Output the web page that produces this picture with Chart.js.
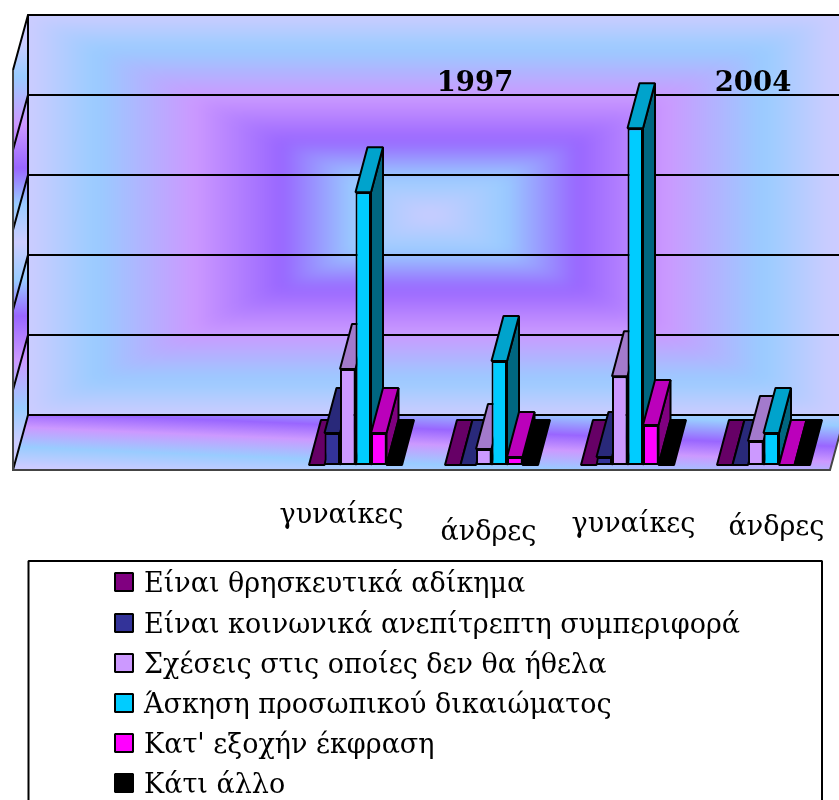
<!DOCTYPE html>
<html>
<head>
<meta charset="utf-8">
<title>Chart</title>
<script src="https://cdn.jsdelivr.net/npm/chart.js@4/dist/chart.umd.min.js"></script>
<style>
    html, body { margin: 0; padding: 0; background: #fff; overflow: hidden; }
    canvas { display: block; }
</style>
</head>
<body>
<canvas id="chart" width="839" height="800"></canvas>
<script>
// Chart data, the first two categories are empty in the original
const categories = ["", "", "γυναίκες", "άνδρες", "γυναίκες", "άνδρες"];
const yearLabels = ["1997", "2004"];
const seriesNames = [
    "Είναι θρησκευτικά αδίκημα",
    "Είναι κοινωνικά ανεπίτρεπτη συμπεριφορά",
    "Σχέσεις στις οποίες δεν θα ήθελα",
    "Άσκηση προσωπικού δικαιώματος",
    "Κατ' εξοχήν έκφραση",
    "Κάτι άλλο"
];
const religious = [null, null, 0, 0, 0, 0];
const unacceptable = [null, null, 4, 0, 1, 0];
const unwanted = [null, null, 12, 2, 11.1, 3];
const personalRight = [null, null, 34.1, 13, 42.1, 4];
const expression = [null, null, 4, 1, 5, 0];
const other = [null, null, 0, 0, 0, 0];
const seriesValues = [religious, unacceptable, unwanted, personalRight, expression, other];

// Colours
const frontColors = ["#800080", "#333399", "#CC99FF", "#00CCFF", "#FF00FF", "#000000"];
const topColors = ["#660066", "#29297A", "#A37ACC", "#00A3CC", "#BB00BB", "#000000"];
const sideColors = ["#400040", "#1A1A4D", "#664D80", "#006680", "#800080", "#000000"];
const wallStops = [[0, "#CCCCFF"], [0.19, "#99CCFF"], [0.37, "#9966FF"], [0.59, "#CC99FF"], [0.83, "#99CCFF"], [1, "#CCCCFF"]];

// Layout of the fake 3D box
const wall = { left: 28, top: 15, right: 845, bottom: 415 };
const floorFront = { left: 13, right: 830, y: 470 };
const barDepth = { x: 12, y: -45 };
const gridBack = { x: 28, y: -50 };
const gridFront = { x: 13, y: 5 };
const SERIF = '"DejaVu Serif", serif';

// Where the text boxes sit relative to their category
const labelOffsets = [null, null, { x: -14, y: 523 }, { x: -3, y: 540 }, { x: 6, y: 532 }, { x: 13, y: 535 }];
const yearPositions = [{ x: 475, y: 91 }, { x: 753, y: 91 }];
const legendBox = { left: 28.5, top: 561, right: 822, bottom: 820 };
const legendRows = [592, 633, 673, 713, 753, 793];

function hexToRgb(hex) {
    return [1, 3, 5].map(i => parseInt(hex.substr(i, 2), 16));
}

function wallColor(t) {
    for (let i = 1; i < wallStops.length; i++) {
        if (t <= wallStops[i][0]) {
            const a = wallStops[i - 1];
            const b = wallStops[i];
            const f = (t - a[0]) / (b[0] - a[0]);
            const ca = hexToRgb(a[1]);
            const cb = hexToRgb(b[1]);
            return `rgb(${ca.map((c, k) => Math.round(c + (cb[k] - c) * f)).join(",")})`;
        }
    }
    return wallStops[wallStops.length - 1][1];
}

function polygon(ctx, points) {
    ctx.beginPath();
    points.forEach((p, i) => i ? ctx.lineTo(p[0], p[1]) : ctx.moveTo(p[0], p[1]));
    ctx.closePath();
}

// Rectangular gradient of the back wall, nested rectangles softened with a blur
function makeWallImage() {
    const off = document.createElement("canvas");
    off.width = 900;
    off.height = 460;
    const octx = off.getContext("2d");
    const cx = 430;
    const cy = (wall.top + wall.bottom) / 2;
    const hw = cx - wall.left;
    const hh = (wall.bottom - wall.top) / 2;
    octx.fillStyle = wallColor(1);
    octx.fillRect(0, 0, off.width, off.height);
    for (let i = 250; i > 0; i--) {
        const t = i / 250;
        octx.fillStyle = wallColor(t);
        octx.fillRect(cx - hw * t, cy - hh * t, hw * t * 2, hh * t * 2);
    }
    return off;
}

// Back wall, side wall and floor
function drawBox(chart) {
    const ctx = chart.ctx;
    const yScale = chart.scales.y;
    ctx.save();

    ctx.save();
    ctx.beginPath();
    ctx.rect(wall.left, wall.top, wall.right - wall.left, wall.bottom - wall.top);
    ctx.clip();
    ctx.filter = "blur(7px)";
    ctx.drawImage(makeWallImage(), 0, 0);
    ctx.restore();

    // Side wall
    const side = ctx.createLinearGradient(0, 42, 0, 442);
    wallStops.slice().reverse().forEach(s => side.addColorStop(0.5 - s[0] / 2, s[1]));
    wallStops.forEach(s => side.addColorStop(0.5 + s[0] / 2, s[1]));
    polygon(ctx, [[floorFront.left, 70], [wall.left, wall.top], [wall.left, wall.bottom], [floorFront.left, floorFront.y]]);
    ctx.fillStyle = side;
    ctx.fill();

    // Floor, the bands run slightly downhill to the right
    const floor = ctx.createLinearGradient(0, 370, -4.7, 480);
    floor.addColorStop(0, "#CCCCFF");
    floor.addColorStop(0.18, "#99CCFF");
    floor.addColorStop(0.37, "#9966FF");
    floor.addColorStop(0.51, "#CC99FF");
    floor.addColorStop(0.69, "#99CCFF");
    floor.addColorStop(0.87, "#CCCCFF");
    polygon(ctx, [[floorFront.left, floorFront.y], [wall.left, wall.bottom], [wall.right, wall.bottom], [floorFront.right, floorFront.y]]);
    ctx.fillStyle = floor;
    ctx.fill();

    // Gridlines on both walls, from the value scale
    ctx.strokeStyle = "#000";
    ctx.lineWidth = 2;
    yScale.ticks.forEach(tick => {
        const y = yScale.getPixelForValue(tick.value);
        ctx.beginPath();
        ctx.moveTo(gridFront.x, y + gridFront.y);
        ctx.lineTo(gridBack.x, y + gridBack.y);
        ctx.lineTo(wall.right, y + gridBack.y);
        ctx.stroke();
    });
    ctx.beginPath();
    ctx.moveTo(wall.left, wall.top);
    ctx.lineTo(wall.left, wall.bottom);
    ctx.stroke();

    // Front edges of the box
    ctx.strokeStyle = "#444";
    ctx.beginPath();
    ctx.moveTo(floorFront.left, 70);
    ctx.lineTo(floorFront.left, floorFront.y);
    ctx.lineTo(floorFront.right, floorFront.y);
    ctx.lineTo(wall.right, wall.bottom);
    ctx.stroke();
    ctx.restore();
}

// Top and right faces of one bar, the front comes from Chart.js
function drawBarDepth(ctx, bar, seriesIndex) {
    const x0 = bar.x - bar.width / 2;
    const x1 = bar.x + bar.width / 2;
    const dx = barDepth.x;
    const dy = barDepth.y;
    ctx.strokeStyle = "#000";
    ctx.lineWidth = 2;
    ctx.lineJoin = "bevel";
    if (bar.base - bar.y > 0) {
        polygon(ctx, [[x1, bar.y], [x1 + dx, bar.y + dy], [x1 + dx, bar.base + dy], [x1, bar.base]]);
        ctx.fillStyle = sideColors[seriesIndex];
        ctx.fill();
        ctx.stroke();
    }
    polygon(ctx, [[x0, bar.y], [x0 + dx, bar.y + dy], [x1 + dx, bar.y + dy], [x1, bar.y]]);
    ctx.fillStyle = topColors[seriesIndex];
    ctx.fill();
    ctx.stroke();
}

function drawTexts(chart) {
    const ctx = chart.ctx;
    const xScale = chart.scales.x;
    ctx.save();
    ctx.fillStyle = "#000";
    ctx.textBaseline = "alphabetic";
    ctx.textAlign = "center";

    // Category labels are loose text boxes in the original
    ctx.font = `27px ${SERIF}`;
    categories.forEach((label, i) => {
        if (!label) return;
        ctx.fillText(label, xScale.getPixelForValue(i) + labelOffsets[i].x, labelOffsets[i].y);
    });

    ctx.font = `bold 27.5px ${SERIF}`;
    yearLabels.forEach((label, i) => ctx.fillText(label, yearPositions[i].x, yearPositions[i].y));

    // Legend
    ctx.strokeStyle = "#000";
    ctx.lineWidth = 2;
    ctx.strokeRect(legendBox.left, legendBox.top, legendBox.right - legendBox.left, legendBox.bottom - legendBox.top);
    ctx.textAlign = "left";
    ctx.font = `27px ${SERIF}`;
    seriesNames.forEach((name, i) => {
        ctx.fillStyle = frontColors[i];
        ctx.fillRect(115, legendRows[i] - 19, 18, 18);
        ctx.strokeRect(115, legendRows[i] - 19, 18, 18);
        ctx.fillStyle = "#000";
        ctx.fillText(name, 144, legendRows[i]);
    });
    ctx.restore();
}

const boxPlugin = {
    id: "box3d",
    beforeDatasetsDraw(chart) {
        drawBox(chart);
    },
    // Chart.js paints the first dataset last, here the left series has to go first
    beforeDatasetDraw() {
        return false;
    },
    afterDatasetsDraw(chart) {
        chart.getSortedVisibleDatasetMetas().forEach(meta => {
            meta.data.forEach((bar, i) => {
                if (seriesValues[meta.index][i] !== null) {
                    drawBarDepth(chart.ctx, bar, meta.index);
                }
            });
            meta.controller.draw();
        });
    },
    afterDraw(chart) {
        drawTexts(chart);
    }
};

const datasets = seriesNames.map((name, i) => ({
    label: name,
    data: seriesValues[i],
    backgroundColor: frontColors[i],
    borderColor: "#000",
    borderWidth: 2,
    borderSkipped: false
}));

new Chart(document.getElementById("chart").getContext("2d"), {
    type: "bar",
    data: { labels: categories, datasets },
    options: {
        responsive: false,
        animation: false,
        layout: { padding: { left: 15.5, right: 7.5, top: 65, bottom: 335 } },
        categoryPercentage: 0.684,
        barPercentage: 1,
        scales: {
            x: { display: false },
            y: { display: false, min: 0, max: 50, ticks: { stepSize: 10 } }
        },
        plugins: {
            legend: { display: false },
            tooltip: { enabled: false }
        }
    },
    plugins: [boxPlugin]
});
</script>
</body>
</html>
